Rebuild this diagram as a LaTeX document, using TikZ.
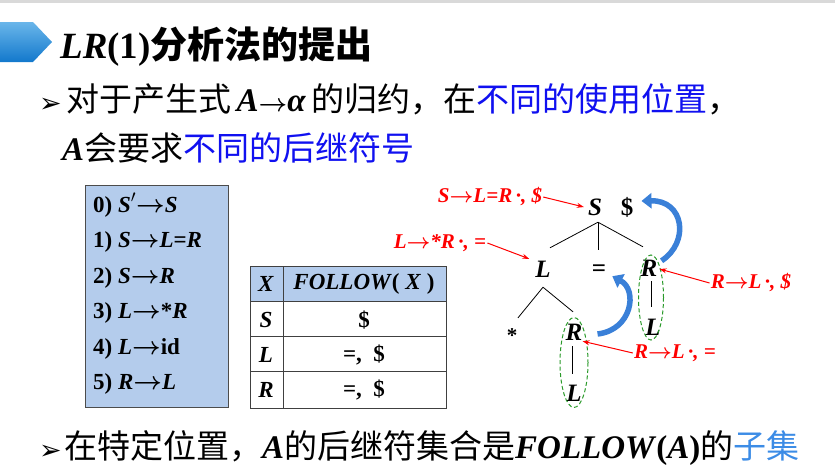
\documentclass[tikz,border=0pt]{standalone}
\usepackage{fontspec}
\setmainfont{Liberation Serif}
\newfontfamily\cjk{Noto Sans CJK SC}
\newfontfamily\dingfont{DejaVu Sans}
\definecolor{boxblue}{HTML}{B4CCEC}
\definecolor{curveblue}{HTML}{3A80D8}
\definecolor{hlblue}{HTML}{1010F0}
\definecolor{subblue}{HTML}{3C8CE6}
\definecolor{ovalgreen}{HTML}{2A9A2A}
\definecolor{bannertop}{HTML}{6AB6EA}
\definecolor{bannerbot}{HTML}{1278CC}
\usetikzlibrary{calc,positioning,arrows.meta,shapes.geometric}
\newcommand{\itb}[1]{\textbf{\textit{#1}}}
\newcommand{\arr}{\ensuremath{\boldsymbol{\rightarrow}}}
\usepackage{amsmath}

\begin{document}
\begin{tikzpicture}[x=1pt,y=-1pt,
    txt/.style={anchor=base west,inner sep=0pt},
    bullet/.style={anchor=base west,inner sep=0pt,font=\dingfont\fontsize{27}{27}\selectfont},
    gram/.style={anchor=base west,inner sep=0pt,font=\bfseries\fontsize{23}{23}\selectfont},
    cell/.style={inner sep=0pt,font=\bfseries\fontsize{23}{23}\selectfont},
    tnode/.style={inner sep=0pt,text height=16pt,text depth=0pt,
                  font=\bfseries\itshape\fontsize{25}{25}\selectfont},
    redlbl/.style={inner sep=1pt,text=red,font=\bfseries\itshape\fontsize{21}{21}\selectfont},
    redarrow/.style={red,line width=1pt,-{Stealth[length=7pt,width=5pt]}},
    ovaldash/.style={ovalgreen,line width=1pt,dash pattern=on 4pt off 2.5pt},
    bluecurve/.style={curveblue,line width=5.5pt,-{Triangle[length=10pt,width=15pt]}}]
  \useasboundingbox (0,0) rectangle (835,475);
  \fill[gray!30] (0,0) rectangle (835,3);

  % title banner
  \shade[top color=bannertop,bottom color=bannerbot]
    (0,22) -- (33,22) -- (52,42) -- (33,62) -- (0,62) -- cycle;
  \node[txt,font=\bfseries\fontsize{37}{37}\selectfont] (title) at (60,58)
    {\textit{LR}(1){\cjk 分析法的提出}};

  % text lines
  \node[bullet] (bul1) at (39,112) {➢};
  \node[txt,font=\fontsize{33}{33}\selectfont] (line1) at (66,111)
    {{\cjk 对于产生式}\,\itb{A}\arr\itb{α}\,{\cjk 的归约，在}{\cjk\color{hlblue}不同的使用位置}{\cjk ，}};
  \node[txt,font=\fontsize{33}{33}\selectfont] (line2) at (62,160)
    {\itb{A}{\cjk 会要求}{\cjk\color{hlblue}不同的后继符号}};
  \node[bullet] (bul2) at (39,459) {➢};
  \node[txt,font=\fontsize{33}{33}\selectfont] (line3) at (64,458)
    {{\cjk 在特定位置，}\itb{A}{\cjk 的后继符集合是}\itb{FOLLOW}\textbf{(}\itb{A}\textbf{)}{\cjk 的}{\cjk\color{subblue}子集}};

  % grammar box
  \draw[fill=boxblue,draw=black!70,line width=1pt] (85,185) rectangle (228,407);
  \foreach \prod [count=\i from 0] in
      {0) \textit{S}$'$\arr\textit{S}, 1) \textit{S}\arr\textit{L}=\textit{R}, 2) \textit{S}\arr\textit{R},
       3) \textit{L}\arr*\textit{R}, 4) \textit{L}\arr id, 5) \textit{R}\arr\textit{L}}
    \node[gram] (g\i) at (93,{212+35.5*\i}) {\prod};

  % FOLLOW table
  \fill[boxblue] (250,266) rectangle (446,301);
  \draw[black!75,line width=1pt] (250,266) rectangle (446,408);
  \foreach \yy in {301,336,371}
    \draw[black!75,line width=1pt] (250,\yy) -- (446,\yy);
  \draw[black!75,line width=1pt] (283,266) -- (283,408);
  \node[cell] (hX) at (266,284) {\textit{X}};
  \node[cell] (hF) at (364,284) {\textit{FOLLOW}( \textit{X} )};
  \node[cell] (rS) at (266,320) {\textit{S}};
  \node[cell] (fS) at (364,320) {\$};
  \node[cell] (rL) at (266,355) {\textit{L}};
  \node[cell] (fL) at (364,355) {=,\ \ \$};
  \node[cell] (rR) at (266,390) {\textit{R}};
  \node[cell] (fR) at (364,390) {=,\ \ \$};

  % parse tree
  \node[tnode] (S) at (595,207) {S};
  \node[tnode,font=\bfseries\fontsize{25}{25}\selectfont] (dol) at (627,207) {\$};
  \node[tnode] (L) at (543,269) {L};
  \node[tnode,font=\bfseries\fontsize{25}{25}\selectfont] (eq) at (599,268) {=};
  \node[tnode] (R1) at (649,268) {R};
  \node[tnode,font=\bfseries\fontsize{21}{21}\selectfont] (star) at (512,334) {*};
  \node[tnode] (R2) at (574,332) {R};
  \node[tnode] (L2) at (574,393) {L};
  \node[tnode] (L3) at (653,327) {L};

  \draw[line width=0.8pt] ($(S.south)+(3,7)$) -- ($(L.north)+(7,-13)$);
  \draw[line width=0.8pt] ($(S.south)+(3,7)$) -- ($(eq.north)+(-1,-10)$);
  \draw[line width=0.8pt] ($(S.south)+(3,7)$) -- ($(R1.north)+(-6,-13)$);
  \draw[line width=0.8pt] ($(L.south)+(0,10)$) -- ($(star.north)+(6,-8)$);
  \draw[line width=0.8pt] ($(L.south)+(0,10)$) -- ($(R2.north)+(-1,-12)$);
  \draw[line width=0.8pt] ($(R2.south)+(-2,6)$) -- ($(L2.north)+(-2,-11)$);
  \draw[line width=0.8pt] ($(R1.south)+(2,5)$) -- ($(L3.north)+(-2,-12)$);

  \draw[ovaldash] ($(R1)!0.5!(L3)$) ellipse [x radius=12.5, y radius=42.5];
  \draw[ovaldash] ($(R2)!0.5!(L2)$) ellipse [x radius=14, y radius=45];

  % red item labels
  \node[redlbl] (lblS) at (490,197) {S\arr L=R\,·, \$};
  \node[redlbl] (lblL) at (440,243) {L\arr *R\,·, =};
  \node[redlbl] (lblR1) at (751,283) {R\arr L\,·, \$};
  \node[redlbl] (lblR2) at (675,353) {R\arr L\,·, =};
  \draw[redarrow] (lblS.east) -- ($(S.west)+(-4,0)$);
  \draw[redarrow] (lblL.east) -- ($(L.north west)+(-6,-2)$);
  \draw[redarrow] (lblR1.west) -- ($(R1.east)+(2,1)$);
  \draw[redarrow] (lblR2.west) -- ($(R2.south east)+(0,1)$);

  % lookahead passed upward
  \draw[bluecurve] ($(R1.north east)+(4,1)$) .. controls (690,242) and (684,200) .. ($(dol.east)+(8,-6)$);
  \draw[bluecurve] ($(R2.east)+(15,2)$) .. controls (632,330) and (638,290) .. ($(eq.south east)+(6,0)$);
\end{tikzpicture}
\end{document}
